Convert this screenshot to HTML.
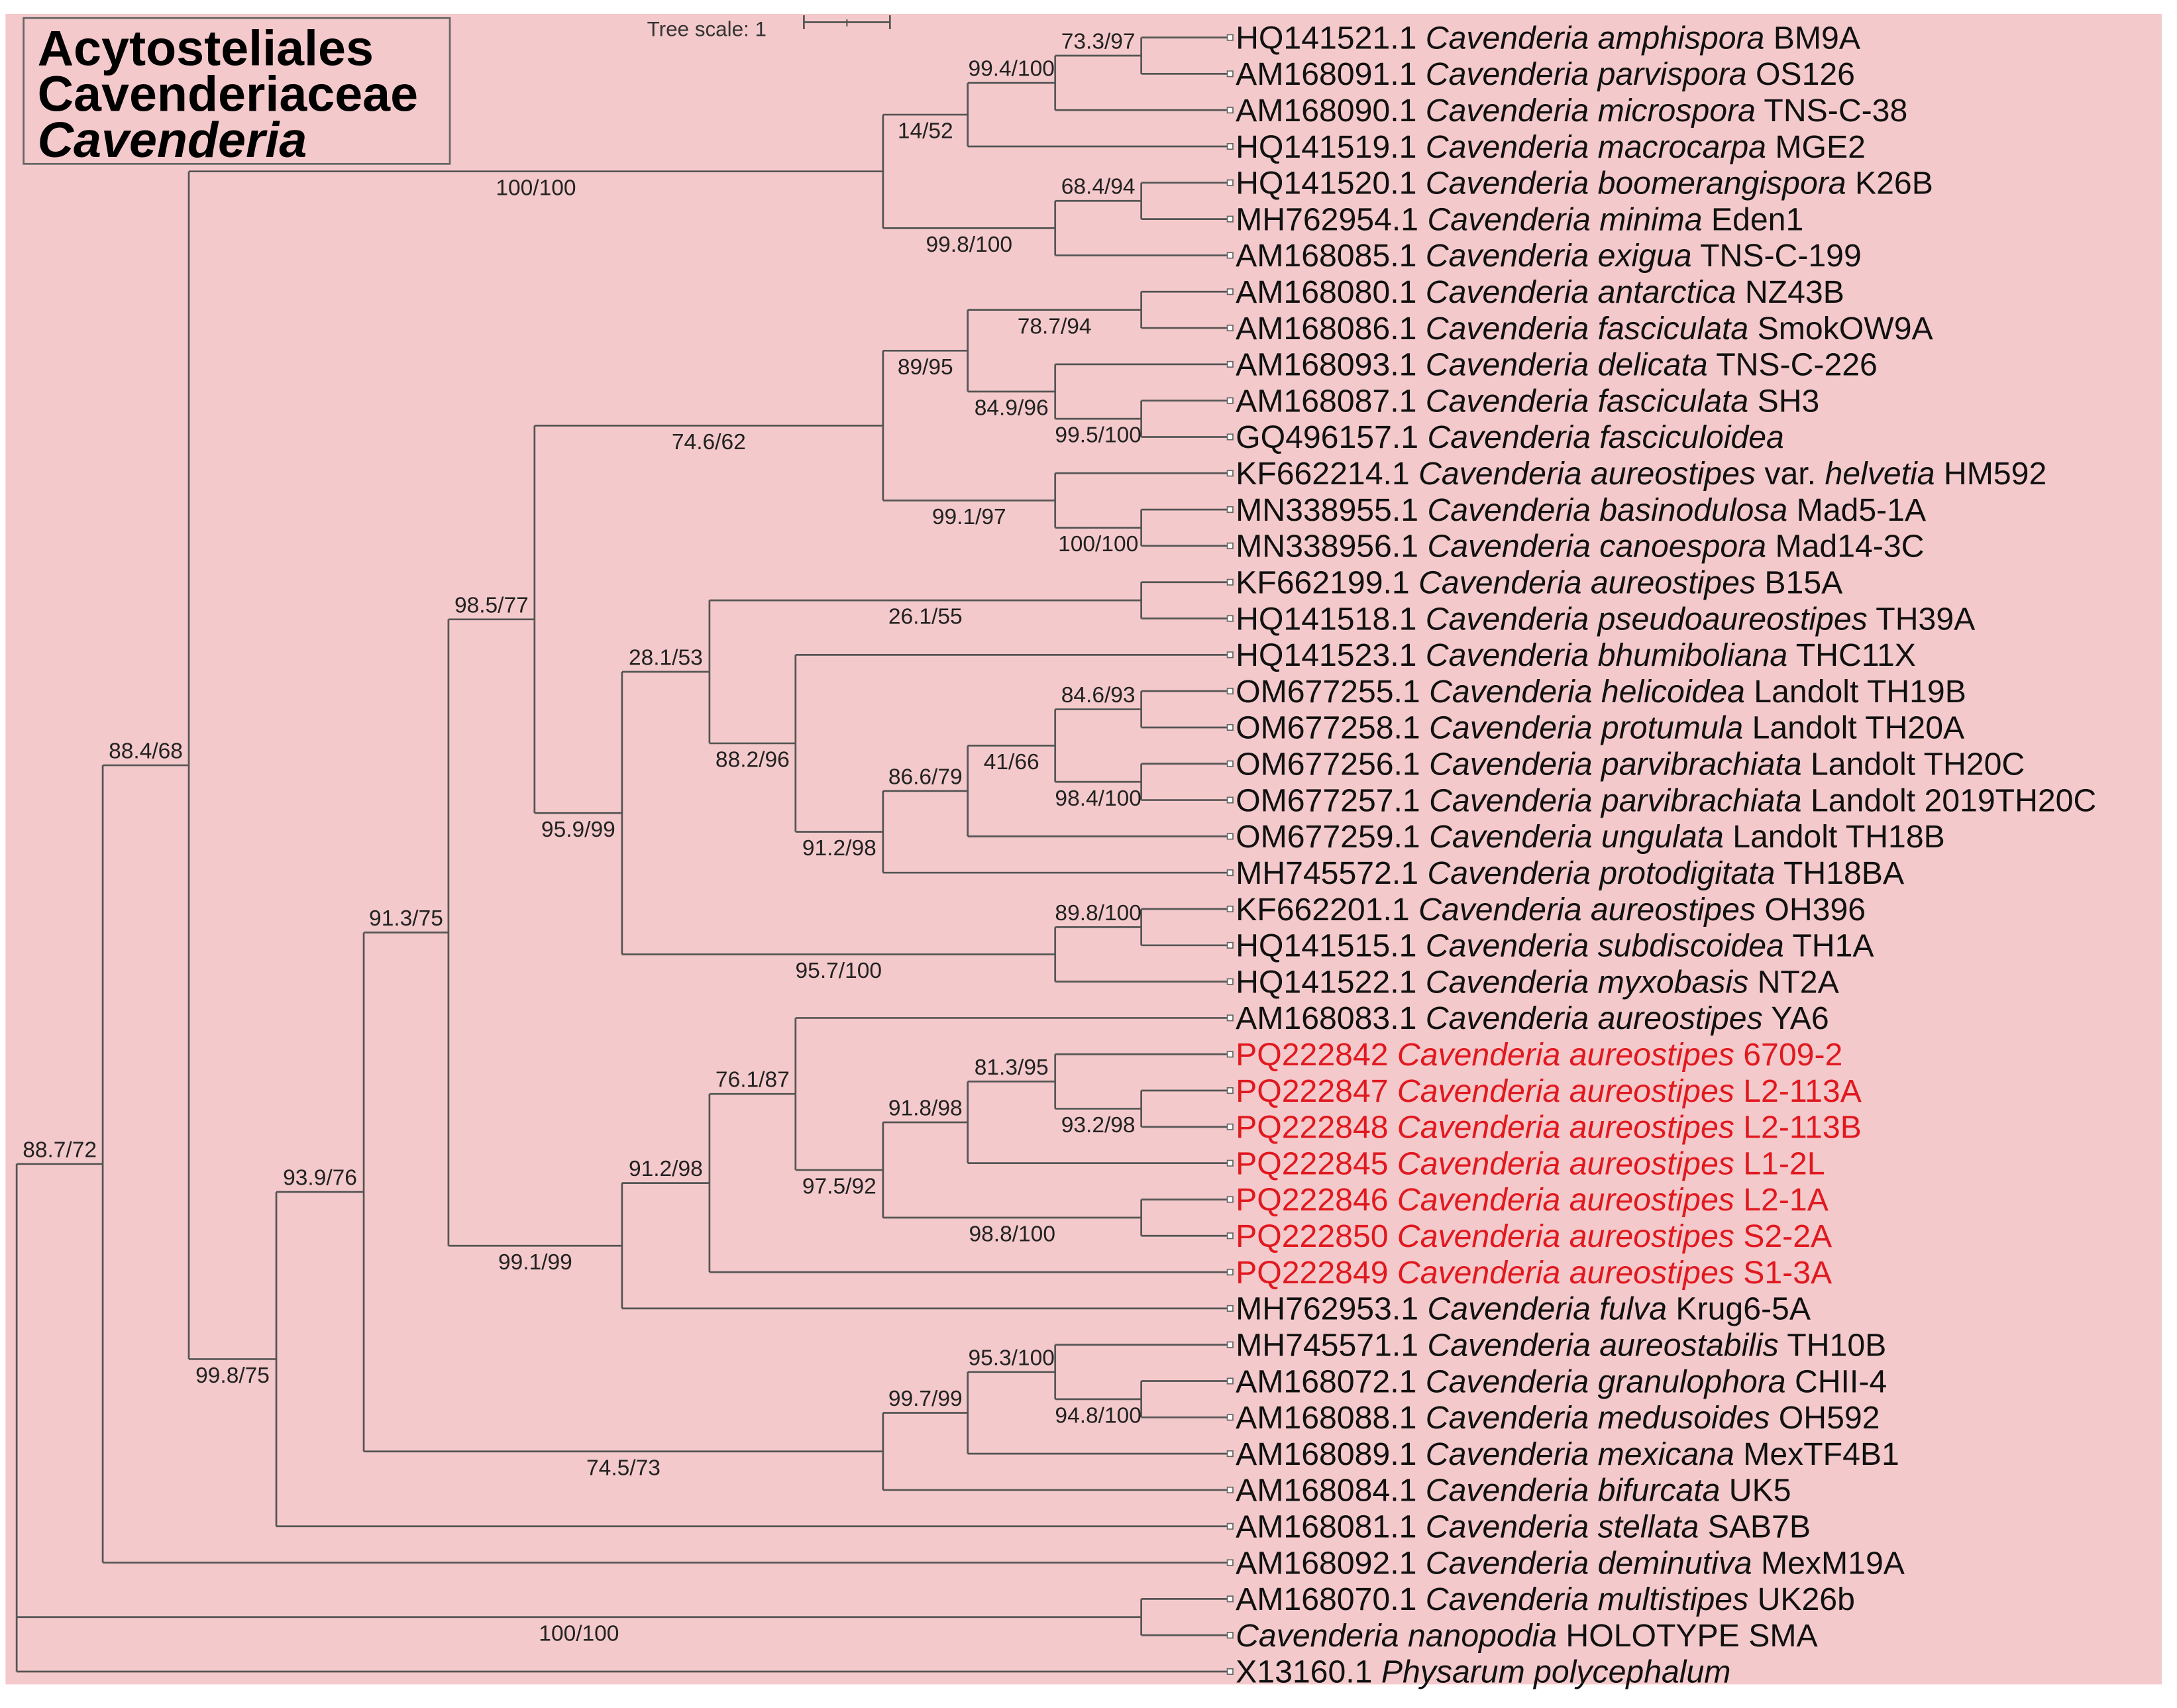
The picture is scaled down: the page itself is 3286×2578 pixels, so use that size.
<!DOCTYPE html>
<html><head><meta charset="utf-8">
<style>
html,body{margin:0;padding:0;background:#fff;}
svg{display:block;}
text{font-family:"Liberation Sans",sans-serif;}
</style></head>
<body>
<svg id="chart" xmlns="http://www.w3.org/2000/svg" width="3286" height="2578" viewBox="0 0 1568 1230" preserveAspectRatio="none">
<rect x="4" y="10" width="1553" height="1203" fill="#f4c9cb"/>
<g>
<rect x="17" y="13" width="307" height="105" fill="none" stroke="#666" stroke-width="1.3"/>
<text x="27" y="47" font-size="36" font-weight="bold">Acytosteliales</text>
<text x="27" y="80" font-size="36" font-weight="bold">Cavenderiaceae</text>
<text x="27" y="113" font-size="36" font-weight="bold" font-style="italic">Cavenderia</text>
</g>
<g>
<text x="466" y="26" font-size="15" fill="#333">Tree scale: 1</text>
<line x1="579" y1="16" x2="641" y2="16" stroke="#555" stroke-width="1.3"/>
<line x1="579" y1="11" x2="579" y2="21" stroke="#555" stroke-width="1.3"/>
<line x1="641" y1="11" x2="641" y2="21" stroke="#555" stroke-width="1.3"/>
<line x1="610" y1="14" x2="610" y2="19" stroke="#555" stroke-width="1"/>
</g>
<g id="branches"></g>
<g id="labels"></g>
<g id="tips"></g>
</svg>
<script>
const leafNames = [
"HQ141521.1 *Cavenderia amphispora* BM9A",
"AM168091.1 *Cavenderia parvispora* OS126",
"AM168090.1 *Cavenderia microspora* TNS-C-38",
"HQ141519.1 *Cavenderia macrocarpa* MGE2",
"HQ141520.1 *Cavenderia boomerangispora* K26B",
"MH762954.1 *Cavenderia minima* Eden1",
"AM168085.1 *Cavenderia exigua* TNS-C-199",
"AM168080.1 *Cavenderia antarctica* NZ43B",
"AM168086.1 *Cavenderia fasciculata* SmokOW9A",
"AM168093.1 *Cavenderia delicata* TNS-C-226",
"AM168087.1 *Cavenderia fasciculata* SH3",
"GQ496157.1 *Cavenderia fasciculoidea*",
"KF662214.1 *Cavenderia aureostipes* var. *helvetia* HM592",
"MN338955.1 *Cavenderia basinodulosa* Mad5-1A",
"MN338956.1 *Cavenderia canoespora* Mad14-3C",
"KF662199.1 *Cavenderia aureostipes* B15A",
"HQ141518.1 *Cavenderia pseudoaureostipes* TH39A",
"HQ141523.1 *Cavenderia bhumiboliana* THC11X",
"OM677255.1 *Cavenderia helicoidea* Landolt TH19B",
"OM677258.1 *Cavenderia protumula* Landolt TH20A",
"OM677256.1 *Cavenderia parvibrachiata* Landolt TH20C",
"OM677257.1 *Cavenderia parvibrachiata* Landolt 2019TH20C",
"OM677259.1 *Cavenderia ungulata* Landolt TH18B",
"MH745572.1 *Cavenderia protodigitata* TH18BA",
"KF662201.1 *Cavenderia aureostipes* OH396",
"HQ141515.1 *Cavenderia subdiscoidea* TH1A",
"HQ141522.1 *Cavenderia myxobasis* NT2A",
"AM168083.1 *Cavenderia aureostipes* YA6",
"PQ222842 *Cavenderia aureostipes* 6709-2",
"PQ222847 *Cavenderia aureostipes* L2-113A",
"PQ222848 *Cavenderia aureostipes* L2-113B",
"PQ222845 *Cavenderia aureostipes* L1-2L",
"PQ222846 *Cavenderia aureostipes* L2-1A",
"PQ222850 *Cavenderia aureostipes* S2-2A",
"PQ222849 *Cavenderia aureostipes* S1-3A",
"MH762953.1 *Cavenderia fulva* Krug6-5A",
"MH745571.1 *Cavenderia aureostabilis* TH10B",
"AM168072.1 *Cavenderia granulophora* CHII-4",
"AM168088.1 *Cavenderia medusoides* OH592",
"AM168089.1 *Cavenderia mexicana* MexTF4B1",
"AM168084.1 *Cavenderia bifurcata* UK5",
"AM168081.1 *Cavenderia stellata* SAB7B",
"AM168092.1 *Cavenderia deminutiva* MexM19A",
"AM168070.1 *Cavenderia multistipes* UK26b",
"*Cavenderia nanopodia* HOLOTYPE SMA",
"X13160.1 *Physarum polycephalum*"
];
const redLeaves = [28,29,30,31,32,33,34];
const tipX = 884;
const rowTop = 27, rowStep = 26.15;
function N(x,label,pos,c){return {x:x,label:label,pos:pos,c:c};}
const tree = N(12,null,null,[
  N(74,'88.7/72','a',[
    N(136,'88.4/68','a',[
      N(636,'100/100','b',[
        N(697,'14/52','b',[ N(760,'99.4/100','a',[ N(822,'73.3/97','a',[0,1]), 2 ]), 3 ]),
        N(760,'99.8/100','b',[ N(822,'68.4/94','a',[4,5]), 6 ])
      ]),
      N(199,'99.8/75','b',[
        N(262,'93.9/76','a',[
          N(323,'91.3/75','a',[
            N(385,'98.5/77','a',[
              N(636,'74.6/62','b',[
                N(697,'89/95','b',[
                  N(822,'78.7/94','b',[7,8]),
                  N(760,'84.9/96','b',[9, N(822,'99.5/100','b',[10,11])])
                ]),
                N(760,'99.1/97','b',[12, N(822,'100/100','b',[13,14])])
              ]),
              N(448,'95.9/99','b',[
                N(511,'28.1/53','a',[
                  N(822,'26.1/55','b',[15,16]),
                  N(573,'88.2/96','b',[17,
                    N(636,'91.2/98','b',[
                      N(697,'86.6/79','a',[
                        N(760,'41/66','b',[ N(822,'84.6/93','a',[18,19]), N(822,'98.4/100','b',[20,21]) ]),
                        22
                      ]),
                      23
                    ])
                  ])
                ]),
                N(760,'95.7/100','b',[ N(822,'89.8/100','a',[24,25]), 26 ])
              ])
            ]),
            N(448,'99.1/99','b',[
              N(511,'91.2/98','a',[
                N(573,'76.1/87','a',[27,
                  N(636,'97.5/92','b',[
                    N(697,'91.8/98','a',[ N(760,'81.3/95','a',[28, N(822,'93.2/98','b',[29,30])]), 31 ]),
                    N(822,'98.8/100','b',[32,33])
                  ])
                ]),
                34
              ]),
              35
            ])
          ]),
          N(636,'74.5/73','b',[
            N(697,'99.7/99','a',[ N(760,'95.3/100','a',[36, N(822,'94.8/100','b',[37,38])]), 39 ]),
            40
          ])
        ]),
        41
      ])
    ]),
    42
  ]),
  N(822,'100/100','b',[43,44]),
  45
]);

const NS = 'http://www.w3.org/2000/svg';
const gB = document.getElementById('branches');
const gL = document.getElementById('labels');
const gT = document.getElementById('tips');
function yOfLeaf(i){return rowTop + i*rowStep;}
function line(x1,y1,x2,y2){
  const l = document.createElementNS(NS,'line');
  l.setAttribute('x1',x1);l.setAttribute('y1',y1);l.setAttribute('x2',x2);l.setAttribute('y2',y2);
  l.setAttribute('stroke','#555');l.setAttribute('stroke-width','1.3');
  
  
  gB.appendChild(l);
}
function layout(n){
  if (typeof n === 'number') return {x:tipX, y:yOfLeaf(n)};
  const kids = n.c.map(layout);
  n.kids = kids;
  n.y = (kids[0].y + kids[kids.length-1].y)/2;
  return n;
}
layout(tree);
function draw(n, parentX){
  if (typeof n === 'number') return;
  line(n.x, n.kids[0].y, n.x, n.kids[n.kids.length-1].y);
  n.kids.forEach(function(k){ line(n.x, k.y, k.x, k.y); });
  if (n.label && parentX !== null){
    const t = document.createElementNS(NS,'text');
    t.setAttribute('x', (parentX + n.x)/2);
    t.setAttribute('y', n.pos === 'a' ? n.y - 5 : n.y + 17);
    t.setAttribute('text-anchor','middle');
    t.setAttribute('font-size','16');
    t.setAttribute('fill','#222');
    t.textContent = n.label;
    
    
    gL.appendChild(t);
  }
  n.c.forEach(function(ch){ draw(ch, n.x); });
}
draw(tree, null);
leafNames.forEach(function(name, i){
  const y = yOfLeaf(i);
  const red = redLeaves.indexOf(i) >= 0;
  const r = document.createElementNS(NS,'rect');
  r.setAttribute('x', tipX); r.setAttribute('y', y-2);
  r.setAttribute('width', 4); r.setAttribute('height', 4);
  r.setAttribute('fill','#fff'); r.setAttribute('stroke','#666'); r.setAttribute('stroke-width','0.8');
  
  
  gT.appendChild(r);
  const t = document.createElementNS(NS,'text');
  t.setAttribute('x', tipX + 6); t.setAttribute('y', y + 8);
  t.setAttribute('font-size','23');
  t.setAttribute('fill', red ? '#e0191f' : '#111');
  
  
  name.split('*').forEach(function(seg, j){
    if (!seg) return;
    const s = document.createElementNS(NS,'tspan');
    if (j % 2 === 1) s.setAttribute('font-style','italic');
    s.textContent = seg;
    t.appendChild(s);
  });
  gT.appendChild(t);
});
</script>
</body></html>
